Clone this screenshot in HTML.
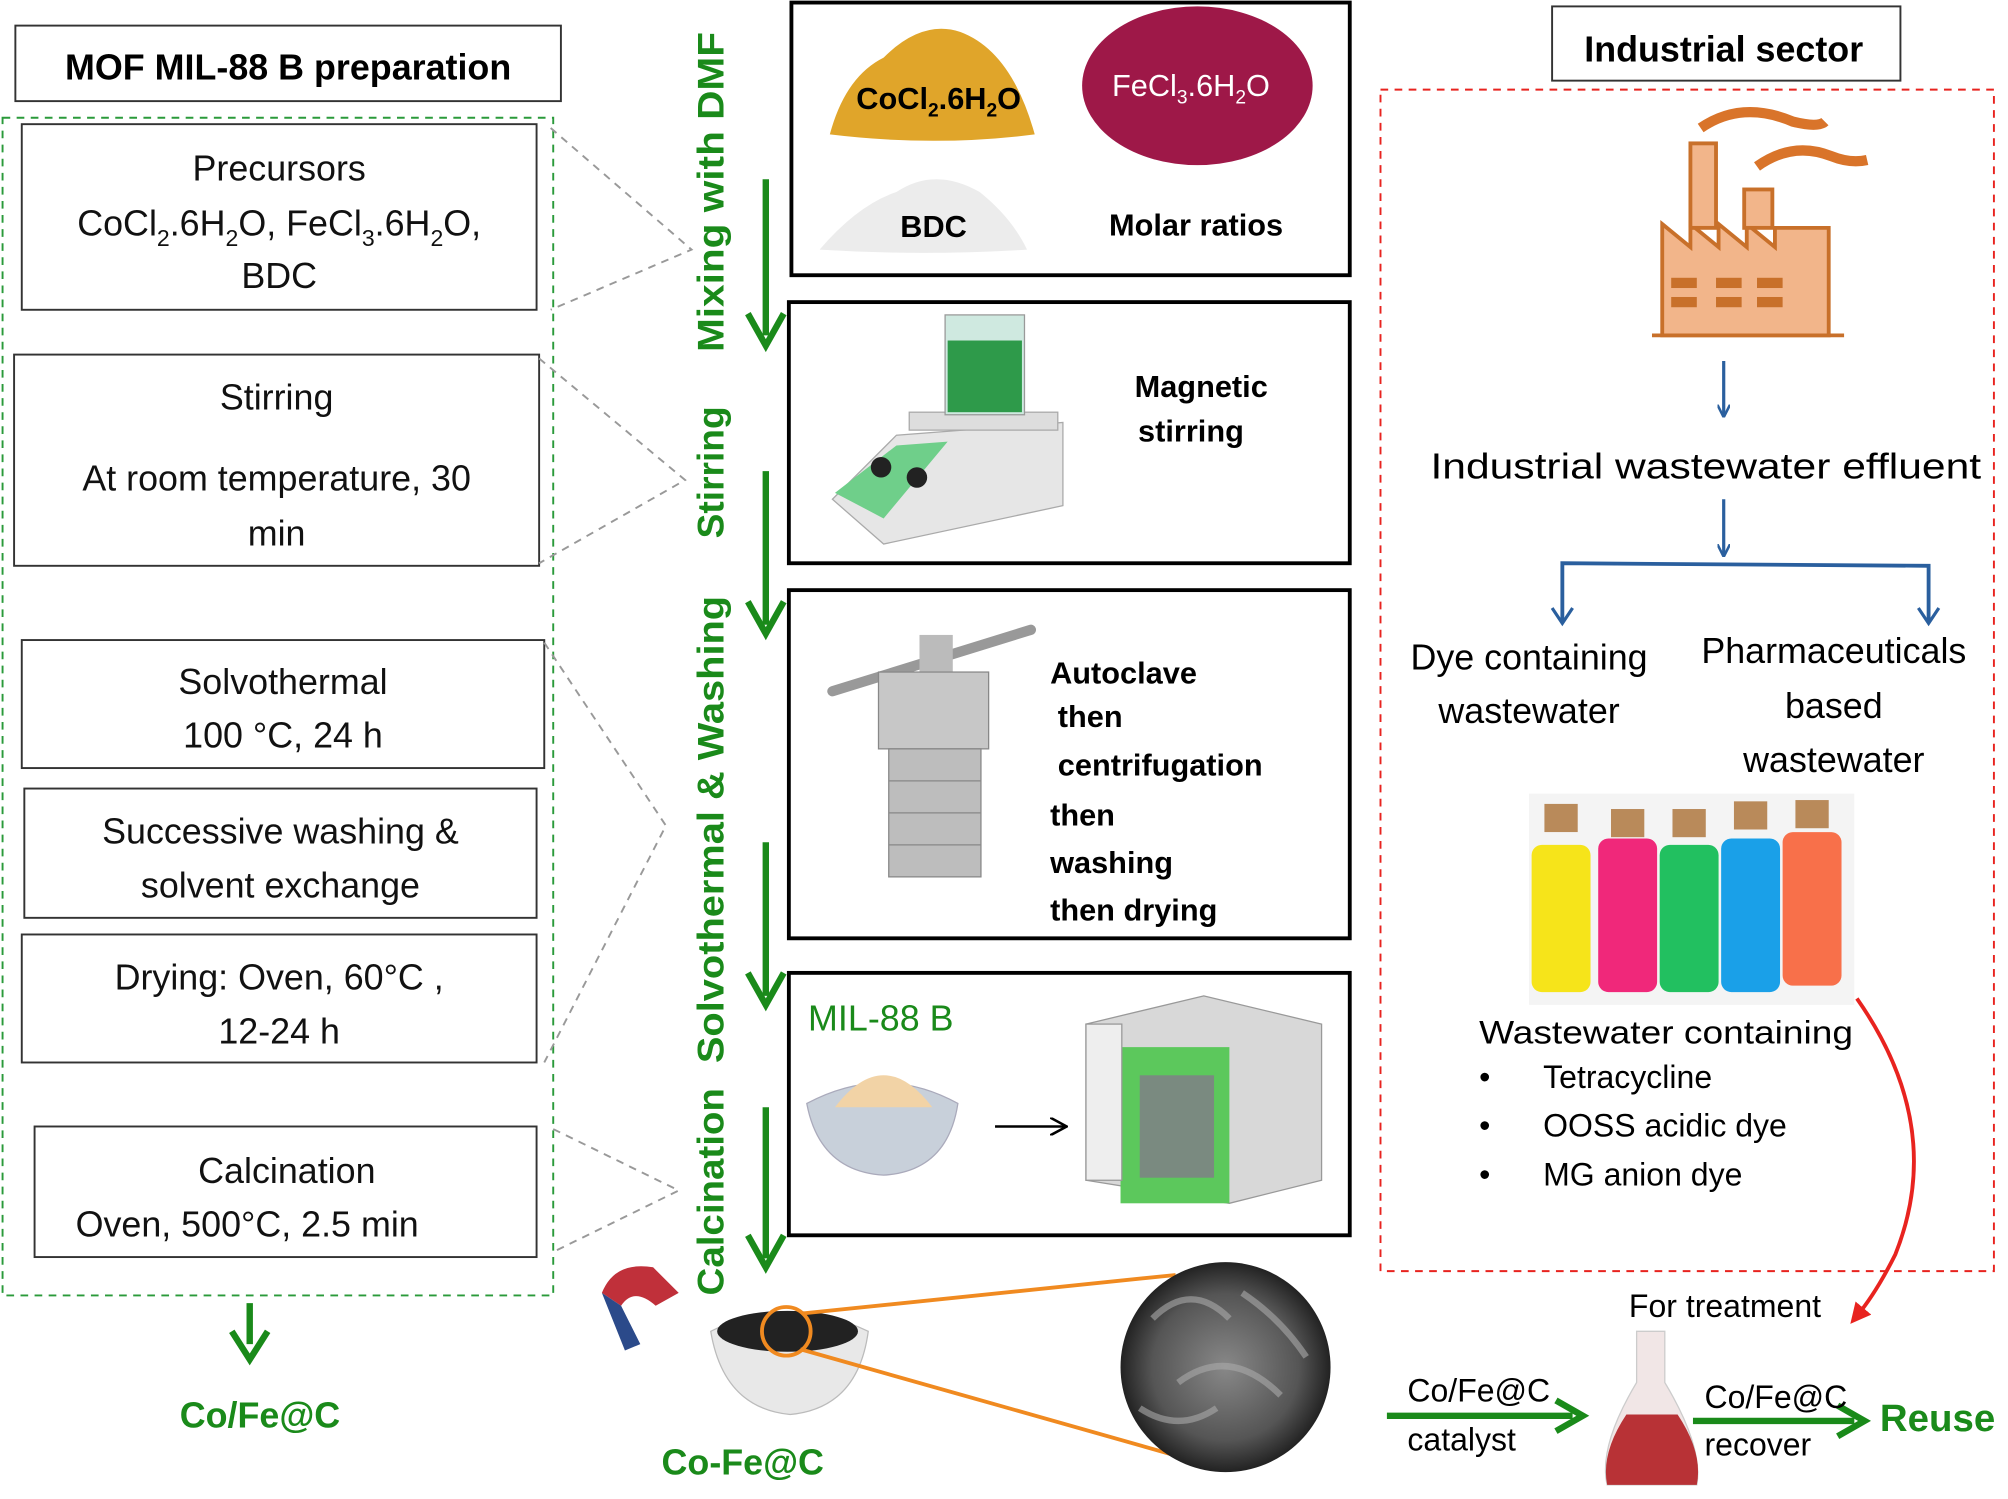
<!DOCTYPE html>
<html><head><meta charset="utf-8"><style>
html,body{margin:0;padding:0;background:#fff}
svg{display:block}
text{font-family:"Liberation Sans",sans-serif}
</style></head><body>
<svg width="2008" height="1499" viewBox="0 0 1568 1171" preserveAspectRatio="none" xmlns="http://www.w3.org/2000/svg">
<defs>
<marker id="ba" markerWidth="10" markerHeight="10" refX="9" refY="5" orient="auto" markerUnits="userSpaceOnUse"><path d="M0,0 L10,5 L0,10" fill="none" stroke="#2a5f9e" stroke-width="2"/></marker>
<marker id="ka" markerWidth="14" markerHeight="14" refX="12" refY="7" orient="auto" markerUnits="userSpaceOnUse"><path d="M0,0 L13,7 L0,14" fill="none" stroke="#000" stroke-width="2"/></marker>
<marker id="ra" markerWidth="16" markerHeight="16" refX="8" refY="8" orient="auto" markerUnits="userSpaceOnUse"><path d="M0,0 L16,8 L0,16 z" fill="#e8231f"/></marker>
<radialGradient id="sem"><stop offset="0" stop-color="#888"/><stop offset="0.7" stop-color="#555"/><stop offset="1" stop-color="#222"/></radialGradient>
</defs>

<rect x="12" y="20" width="426" height="59" fill="#fff" stroke="#333" stroke-width="1.5"/>
<text x="225" y="62" font-size="28" font-weight="bold" text-anchor="middle">MOF MIL-88 B preparation</text>
<rect x="2" y="92" width="430" height="920" fill="none" stroke="#2a9a3a" stroke-width="1.5" stroke-dasharray="6,5"/>

<g fill="#fff" stroke="#333" stroke-width="1.5">
<rect x="17" y="97" width="402" height="145"/>
<rect x="11" y="277" width="410" height="165"/>
<rect x="17" y="500" width="408" height="100"/>
<rect x="19" y="616" width="400" height="101"/>
<rect x="17" y="730" width="402" height="100"/>
<rect x="27" y="880" width="392" height="102"/>
</g>
<g font-size="28" text-anchor="middle" fill="#111">
<text x="218" y="141">Precursors</text>
<text x="218" y="184">CoCl<tspan font-size="18" dy="8">2</tspan><tspan dy="-8">.6H</tspan><tspan font-size="18" dy="8">2</tspan><tspan dy="-8">O, FeCl</tspan><tspan font-size="18" dy="8">3</tspan><tspan dy="-8">.6H</tspan><tspan font-size="18" dy="8">2</tspan><tspan dy="-8">O,</tspan></text>
<text x="218" y="225">BDC</text>
<text x="216" y="320">Stirring</text>
<text x="216" y="383">At room temperature, 30</text>
<text x="216" y="426">min</text>
<text x="221" y="542">Solvothermal</text>
<text x="221" y="584">100 °C, 24 h</text>
<text x="219" y="659">Successive washing &amp;</text>
<text x="219" y="701">solvent exchange</text>
<text x="218" y="773">Drying: Oven, 60°C ,</text>
<text x="218" y="815">12-24 h</text>
<text x="224" y="924">Calcination</text>
<text x="193" y="966">Oven, 500°C, 2.5 min</text>
</g>

<g stroke="#999" stroke-width="1.5" stroke-dasharray="6,5" fill="none">
<path d="M430,100 L540,195 L430,242"/>
<path d="M421,280 L535,375 L421,440"/>
<path d="M425,502 L520,645 L425,830"/>
<path d="M432,882 L530,930 L432,978"/>
</g>

<line x1="195" y1="1018" x2="195" y2="1050" stroke="#1a8a1a" stroke-width="5"/>
<path d="M181,1040 L195,1062 L209,1040" fill="none" stroke="#1a8a1a" stroke-width="5"/>
<text x="203" y="1115" font-size="28" font-weight="bold" fill="#1a8a1a" text-anchor="middle">Co/Fe@C</text>

<g font-size="29" font-weight="bold" fill="#1a8a1a" text-anchor="middle">
<text transform="translate(565,150) rotate(-90)" textLength="250" lengthAdjust="spacingAndGlyphs">Mixing with DMF</text>
<text transform="translate(565,369) rotate(-90)">Stirring</text>
<text transform="translate(565,648) rotate(-90)" textLength="365" lengthAdjust="spacingAndGlyphs">Solvothermal &amp; Washing</text>
<text transform="translate(565,931) rotate(-90)" textLength="162" lengthAdjust="spacingAndGlyphs">Calcination</text>
</g>
<g stroke="#1a8a1a" stroke-width="5" fill="none">
<line x1="598" y1="140" x2="598" y2="262"/><path d="M584,245 L598,270 L612,245"/>
<line x1="598" y1="368" x2="598" y2="488"/><path d="M584,470 L598,495 L612,470"/>
<line x1="598" y1="658" x2="598" y2="778"/><path d="M584,760 L598,785 L612,760"/>
<line x1="598" y1="865" x2="598" y2="983"/><path d="M584,965 L598,990 L612,965"/>
</g>

<g fill="#fff" stroke="#000" stroke-width="3">
<rect x="618" y="2" width="436" height="213"/>
<rect x="616" y="236" width="438" height="204"/>
<rect x="616" y="461" width="438" height="272"/>
<rect x="616" y="760" width="438" height="205"/>
</g>
<path d="M648,105 Q660,60 690,45 Q720,15 750,25 Q790,40 808,105 Q730,115 648,105 Z" fill="#e0a52a"/>
<ellipse cx="935" cy="67" rx="90" ry="62" fill="#9e1848"/>
<path d="M640,195 Q670,160 700,150 Q730,130 765,150 Q790,170 802,195 Q720,200 640,195 Z" fill="#ececec"/>
<text x="733" y="85" font-size="24" font-weight="bold" text-anchor="middle">CoCl<tspan font-size="15" dy="6">2</tspan><tspan dy="-6">.6H</tspan><tspan font-size="15" dy="6">2</tspan><tspan dy="-6">O</tspan></text>
<text x="930" y="75" font-size="24" fill="#fff" text-anchor="middle">FeCl<tspan font-size="15" dy="6">3</tspan><tspan dy="-6">.6H</tspan><tspan font-size="15" dy="6">2</tspan><tspan dy="-6">O</tspan></text>
<text x="729" y="185" font-size="24" font-weight="bold" text-anchor="middle">BDC</text>
<text x="934" y="184" font-size="24" font-weight="bold" text-anchor="middle">Molar ratios</text>
<path d="M650,390 L700,340 L830,330 L830,395 L690,425 Z" fill="#e6e6e6" stroke="#aaa"/>
<path d="M652,385 L700,348 L740,345 L690,405 Z" fill="#6fcf8a"/>
<circle cx="688" cy="365" r="8" fill="#222"/><circle cx="716" cy="373" r="8" fill="#222"/>
<rect x="710" y="322" width="116" height="14" fill="#ddd" stroke="#aaa"/>
<rect x="738" y="246" width="62" height="78" fill="#cfe9e0" stroke="#999"/>
<rect x="740" y="266" width="58" height="56" fill="#2e9a4a"/>
<text x="938" y="310" font-size="24" font-weight="bold" text-anchor="middle">Magnetic</text>
<text x="930" y="345" font-size="24" font-weight="bold" text-anchor="middle">stirring</text>
<line x1="650" y1="540" x2="805" y2="492" stroke="#999" stroke-width="8" stroke-linecap="round"/>
<rect x="718" y="496" width="26" height="30" fill="#bbb"/>
<rect x="686" y="525" width="86" height="60" fill="#c7c7c7" stroke="#888"/>
<rect x="694" y="585" width="72" height="100" fill="#bdbdbd" stroke="#888"/>
<g stroke="#888"><line x1="694" y1="610" x2="766" y2="610"/><line x1="694" y1="635" x2="766" y2="635"/><line x1="694" y1="660" x2="766" y2="660"/></g>
<g font-size="24" font-weight="bold">
<text x="820" y="534">Autoclave</text>
<text x="826" y="568">then</text>
<text x="826" y="606">centrifugation</text>
<text x="820" y="645">then</text>
<text x="820" y="682">washing</text>
<text x="820" y="719">then drying</text>
</g>
<text x="631" y="805" font-size="28" fill="#1a8a1a">MIL-88 B</text>
<path d="M630,862 Q690,830 748,862 Q740,915 690,918 Q640,915 630,862 Z" fill="#c8d0da" stroke="#aab"/>
<path d="M652,865 Q690,815 728,865 Z" fill="#f2d3a6"/>
<line x1="777" y1="880" x2="832" y2="880" stroke="#000" stroke-width="2" marker-end="url(#ka)"/>
<path d="M848,800 L940,778 L1032,800 L1032,922 L960,940 L848,922 Z" fill="#d8d8d8" stroke="#999"/>
<rect x="875" y="818" width="85" height="122" fill="#5cc85c"/>
<rect x="890" y="840" width="58" height="80" fill="#7a8a80"/>
<rect x="848" y="800" width="28" height="122" fill="#eee" stroke="#999"/>

<path d="M470,1010 Q480,985 510,990 L530,1010 L512,1020 Q495,1005 485,1020 Z" fill="#c0303a"/>
<path d="M470,1010 L485,1020 L500,1050 L488,1055 Z" fill="#2b4a8a"/>
<path d="M555,1040 Q615,1010 678,1040 Q670,1100 617,1105 Q565,1100 555,1040 Z" fill="#e8e8e8" stroke="#bbb"/>
<ellipse cx="615" cy="1040" rx="55" ry="16" fill="#222"/>
<circle cx="614" cy="1040" r="19" fill="none" stroke="#f08a20" stroke-width="3"/>
<line x1="627" y1="1026" x2="918" y2="996" stroke="#f08a20" stroke-width="3"/>
<line x1="625" y1="1054" x2="918" y2="1137" stroke="#f08a20" stroke-width="3"/>
<circle cx="957" cy="1068" r="82" fill="url(#sem)"/>
<g fill="none" stroke="#aaa" stroke-width="5" opacity="0.6">
<path d="M900,1030 Q930,1000 960,1030"/><path d="M920,1080 Q960,1050 1000,1090"/><path d="M890,1100 Q920,1120 950,1100"/><path d="M970,1010 Q1000,1030 1020,1060"/>
</g>
<text x="580" y="1152" font-size="28" font-weight="bold" fill="#1a8a1a" text-anchor="middle">Co-Fe@C</text>

<rect x="1212" y="5" width="272" height="58" fill="#fff" stroke="#333" stroke-width="1.5"/>
<text x="1346" y="48" font-size="28" font-weight="bold" text-anchor="middle">Industrial sector</text>
<rect x="1078" y="70" width="479" height="923" fill="none" stroke="#e8231f" stroke-width="1.5" stroke-dasharray="6,5"/>
<g fill="#f2b58a" stroke="#c8702a" stroke-width="3">
<path d="M1298,175 L1320,193 L1320,175 L1342,193 L1342,175 L1364,193 L1364,175 L1386,193 L1386,178 L1428,178 L1428,262 L1298,262 Z"/>
<rect x="1320" y="112" width="20" height="66"/>
<rect x="1362" y="148" width="22" height="30"/>
<line x1="1290" y1="262" x2="1440" y2="262"/>
</g>
<g fill="#c8702a"><rect x="1305" y="217" width="20" height="8"/><rect x="1340" y="217" width="20" height="8"/><rect x="1372" y="217" width="20" height="8"/><rect x="1305" y="232" width="20" height="8"/><rect x="1340" y="232" width="20" height="8"/><rect x="1372" y="232" width="20" height="8"/></g>
<path d="M1328,100 Q1360,78 1400,95 Q1420,100 1425,95" fill="none" stroke="#d9742a" stroke-width="8"/>
<path d="M1372,130 Q1400,110 1430,122 Q1445,128 1458,125" fill="none" stroke="#d9742a" stroke-width="8"/>
<line x1="1346" y1="282" x2="1346" y2="325" stroke="#2a5f9e" stroke-width="2.5" marker-end="url(#ba)"/>
<text x="1332" y="374" font-size="28" text-anchor="middle" textLength="430" lengthAdjust="spacingAndGlyphs">Industrial wastewater effluent</text>
<line x1="1346" y1="390" x2="1346" y2="434" stroke="#2a5f9e" stroke-width="2.5" marker-end="url(#ba)"/>
<path d="M1220,485 L1220,440 L1506,442 L1506,485" fill="none" stroke="#2a5f9e" stroke-width="3"/>
<path d="M1212,475 L1220,487 L1228,475 M1498,475 L1506,487 L1514,475" fill="none" stroke="#2a5f9e" stroke-width="2.5"/>
<g font-size="28" text-anchor="middle">
<text x="1194" y="523">Dye containing</text>
<text x="1194" y="565">wastewater</text>
<text x="1432" y="518">Pharmaceuticals</text>
<text x="1432" y="561">based</text>
<text x="1432" y="603">wastewater</text>
</g>
<rect x="1194" y="620" width="254" height="165" fill="#f4f4f4"/>
<g>
<rect x="1196" y="660" width="46" height="115" rx="8" fill="#f6e41a"/>
<rect x="1248" y="655" width="46" height="120" rx="8" fill="#f0287a"/>
<rect x="1296" y="660" width="46" height="115" rx="8" fill="#22c060"/>
<rect x="1344" y="655" width="46" height="120" rx="8" fill="#1aa0e8"/>
<rect x="1392" y="650" width="46" height="120" rx="8" fill="#f8704a"/>
<g fill="#b98a5a"><rect x="1206" y="628" width="26" height="22"/><rect x="1258" y="632" width="26" height="22"/><rect x="1306" y="632" width="26" height="22"/><rect x="1354" y="626" width="26" height="22"/><rect x="1402" y="625" width="26" height="22"/></g>
</g>
<text x="1155" y="815" font-size="25" textLength="292" lengthAdjust="spacingAndGlyphs">Wastewater containing</text>
<g font-size="25">
<text x="1155" y="850">•</text><text x="1205" y="850">Tetracycline</text>
<text x="1155" y="888">•</text><text x="1205" y="888">OOSS acidic dye</text>
<text x="1155" y="926">•</text><text x="1205" y="926">MG anion dye</text>
</g>
<path d="M1450,780 Q1520,880 1480,980 Q1465,1010 1450,1028" fill="none" stroke="#e8231f" stroke-width="3" marker-end="url(#ra)"/>
<text x="1347" y="1029" font-size="25" text-anchor="middle">For treatment</text>
<path d="M1278,1040 L1300,1040 L1300,1080 Q1330,1130 1325,1160 L1255,1160 Q1248,1130 1278,1080 Z" fill="#f1e6e6" stroke="#ccc"/>
<path d="M1270,1105 L1310,1105 Q1330,1135 1325,1160 L1255,1160 Q1250,1135 1270,1105 Z" fill="#b83236"/>
<g stroke="#1a8a1a" stroke-width="5" fill="none">
<line x1="1083" y1="1106" x2="1228" y2="1106"/><path d="M1215,1094 L1236,1106 L1215,1118"/>
<line x1="1322" y1="1110" x2="1448" y2="1110"/><path d="M1435,1098 L1456,1110 L1435,1122"/>
</g>
<g font-size="25">
<text x="1099" y="1095">Co/Fe@C</text><text x="1099" y="1133">catalyst</text>
<text x="1331" y="1100">Co/Fe@C</text><text x="1331" y="1137">recover</text>
</g>
<text x="1468" y="1118" font-size="30" font-weight="bold" fill="#1a8a1a">Reuse</text>
</svg>
</body></html>
